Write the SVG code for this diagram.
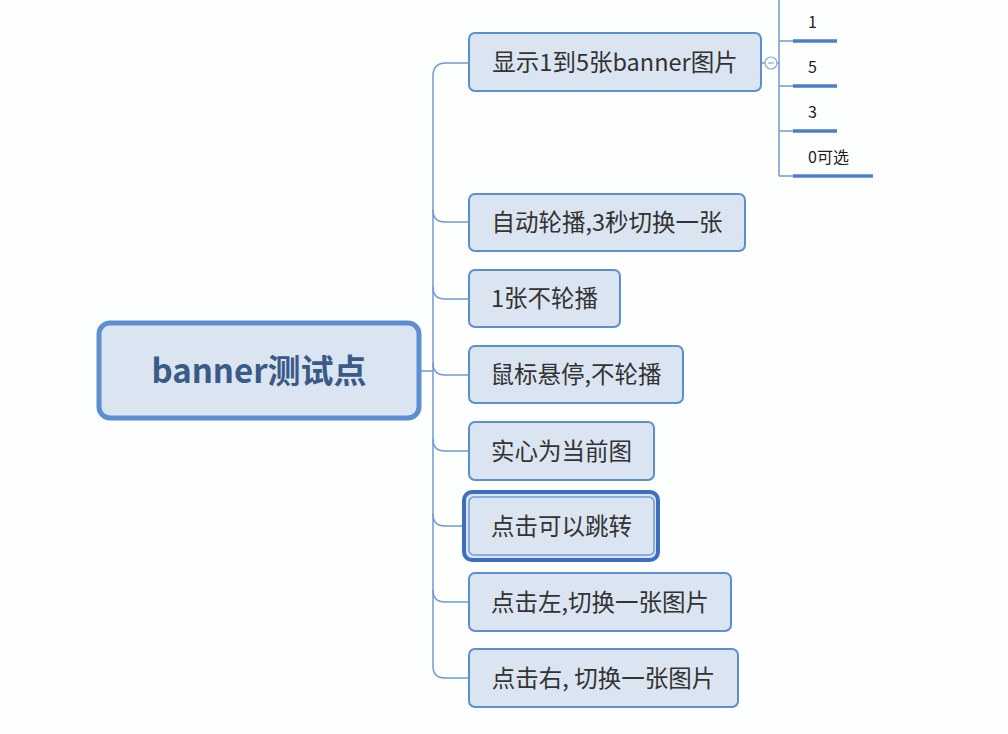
<svg xmlns="http://www.w3.org/2000/svg" width="1008" height="734" viewBox="0 0 1008 734">
<style>
.n rect{fill:#dbe5f1;stroke:#5b8fd0;stroke-width:2}
.t{font-family:"Noto Sans CJK SC","Microsoft YaHei",sans-serif;font-size:23.5px;fill:#333;text-anchor:middle}
.s{font-family:"Noto Sans CJK SC",sans-serif;font-size:16px;fill:#222}
.c{fill:none;stroke:#6f9bd2;stroke-width:1.5}
.u{stroke:#4a7fc8;stroke-width:3.5}
</style>
<rect width="1008" height="734" fill="#fdfefe"/>
<g id="connectors">
<path class="c" d="M420,371 L433,371"/>
<path class="c" d="M433,666 L433,76 Q433,63 446,63 L469,63"/>
<path class="c" d="M433,210 Q433,222 445,222 L469,222"/>
<path class="c" d="M433,287 Q433,299 445,299 L469,299"/>
<path class="c" d="M433,363 Q433,375 445,375 L469,375"/>
<path class="c" d="M433,439 Q433,451 445,451 L469,451"/>
<path class="c" d="M433,514 Q433,526 445,526 L463,526"/>
<path class="c" d="M433,590 Q433,602 445,602 L469,602"/>
<path class="c" d="M433,666 Q433,678 445,678 L469,678"/>
<path class="c" d="M761,63 L765,63 M777,63 L779,63 M779,0 L779,176 M779,41 L793,41 M779,86 L793,86 M779,131 L793,131 M779,176 L793,176"/>
<circle cx="771" cy="63" r="6" fill="#fdfefe" stroke="#8aaad6" stroke-width="1.2"/>
<path d="M768,63 L774,63" stroke="#8aaad6" stroke-width="1.2"/>
</g>
<g id="root">
<rect x="99" y="323" width="320" height="95" rx="11" fill="#dbe5f1" stroke="#5b8fd0" stroke-width="5"/>
<text x="259" y="383" font-family="'Noto Sans CJK SC',sans-serif" font-size="33" font-weight="bold" fill="#3a5a88" text-anchor="middle">banner测试点</text>
</g>
<g id="n1" class="n"><rect x="469" y="33" width="292" height="58" rx="6"/><text class="t" x="615" y="71">显示1到5张banner图片</text></g>
<g id="n2" class="n"><rect x="469" y="194" width="276" height="57" rx="6"/><text class="t" x="607" y="231">自动轮播,3秒切换一张</text></g>
<g id="n3" class="n"><rect x="469" y="270" width="151" height="57" rx="6"/><text class="t" x="544.5" y="307">1张不轮播</text></g>
<g id="n4" class="n"><rect x="469" y="346" width="214" height="57" rx="6"/><text class="t" x="576" y="383">鼠标悬停,不轮播</text></g>
<g id="n5" class="n"><rect x="469" y="422" width="185" height="58" rx="6"/><text class="t" x="561.5" y="460">实心为当前图</text></g>
<g id="n6">
<rect x="464" y="492" width="194" height="68" rx="8" fill="#dbe5f1" stroke="#3f6dbf" stroke-width="4"/>
<rect x="469" y="497" width="185" height="58" rx="5" fill="#dbe5f1" stroke="#6f9bd8" stroke-width="1.5"/>
<text class="t" x="561.5" y="535">点击可以跳转</text>
</g>
<g id="n7" class="n"><rect x="469" y="573" width="262" height="58" rx="6"/><text class="t" x="600" y="611">点击左,切换一张图片</text></g>
<g id="n8" class="n"><rect x="469" y="649" width="269" height="58" rx="6"/><text class="t" x="603.5" y="687">点击右, 切换一张图片</text></g>
<g id="s1"><line class="u" x1="793" y1="41" x2="837" y2="41"/><text class="s" x="808" y="28">1</text></g>
<g id="s2"><line class="u" x1="793" y1="86" x2="837" y2="86"/><text class="s" x="808" y="73">5</text></g>
<g id="s3"><line class="u" x1="793" y1="131" x2="837" y2="131"/><text class="s" x="808" y="118">3</text></g>
<g id="s4"><line class="u" x1="793" y1="176" x2="873" y2="176"/><text class="s" x="808" y="163">0可选</text></g>
</svg>
